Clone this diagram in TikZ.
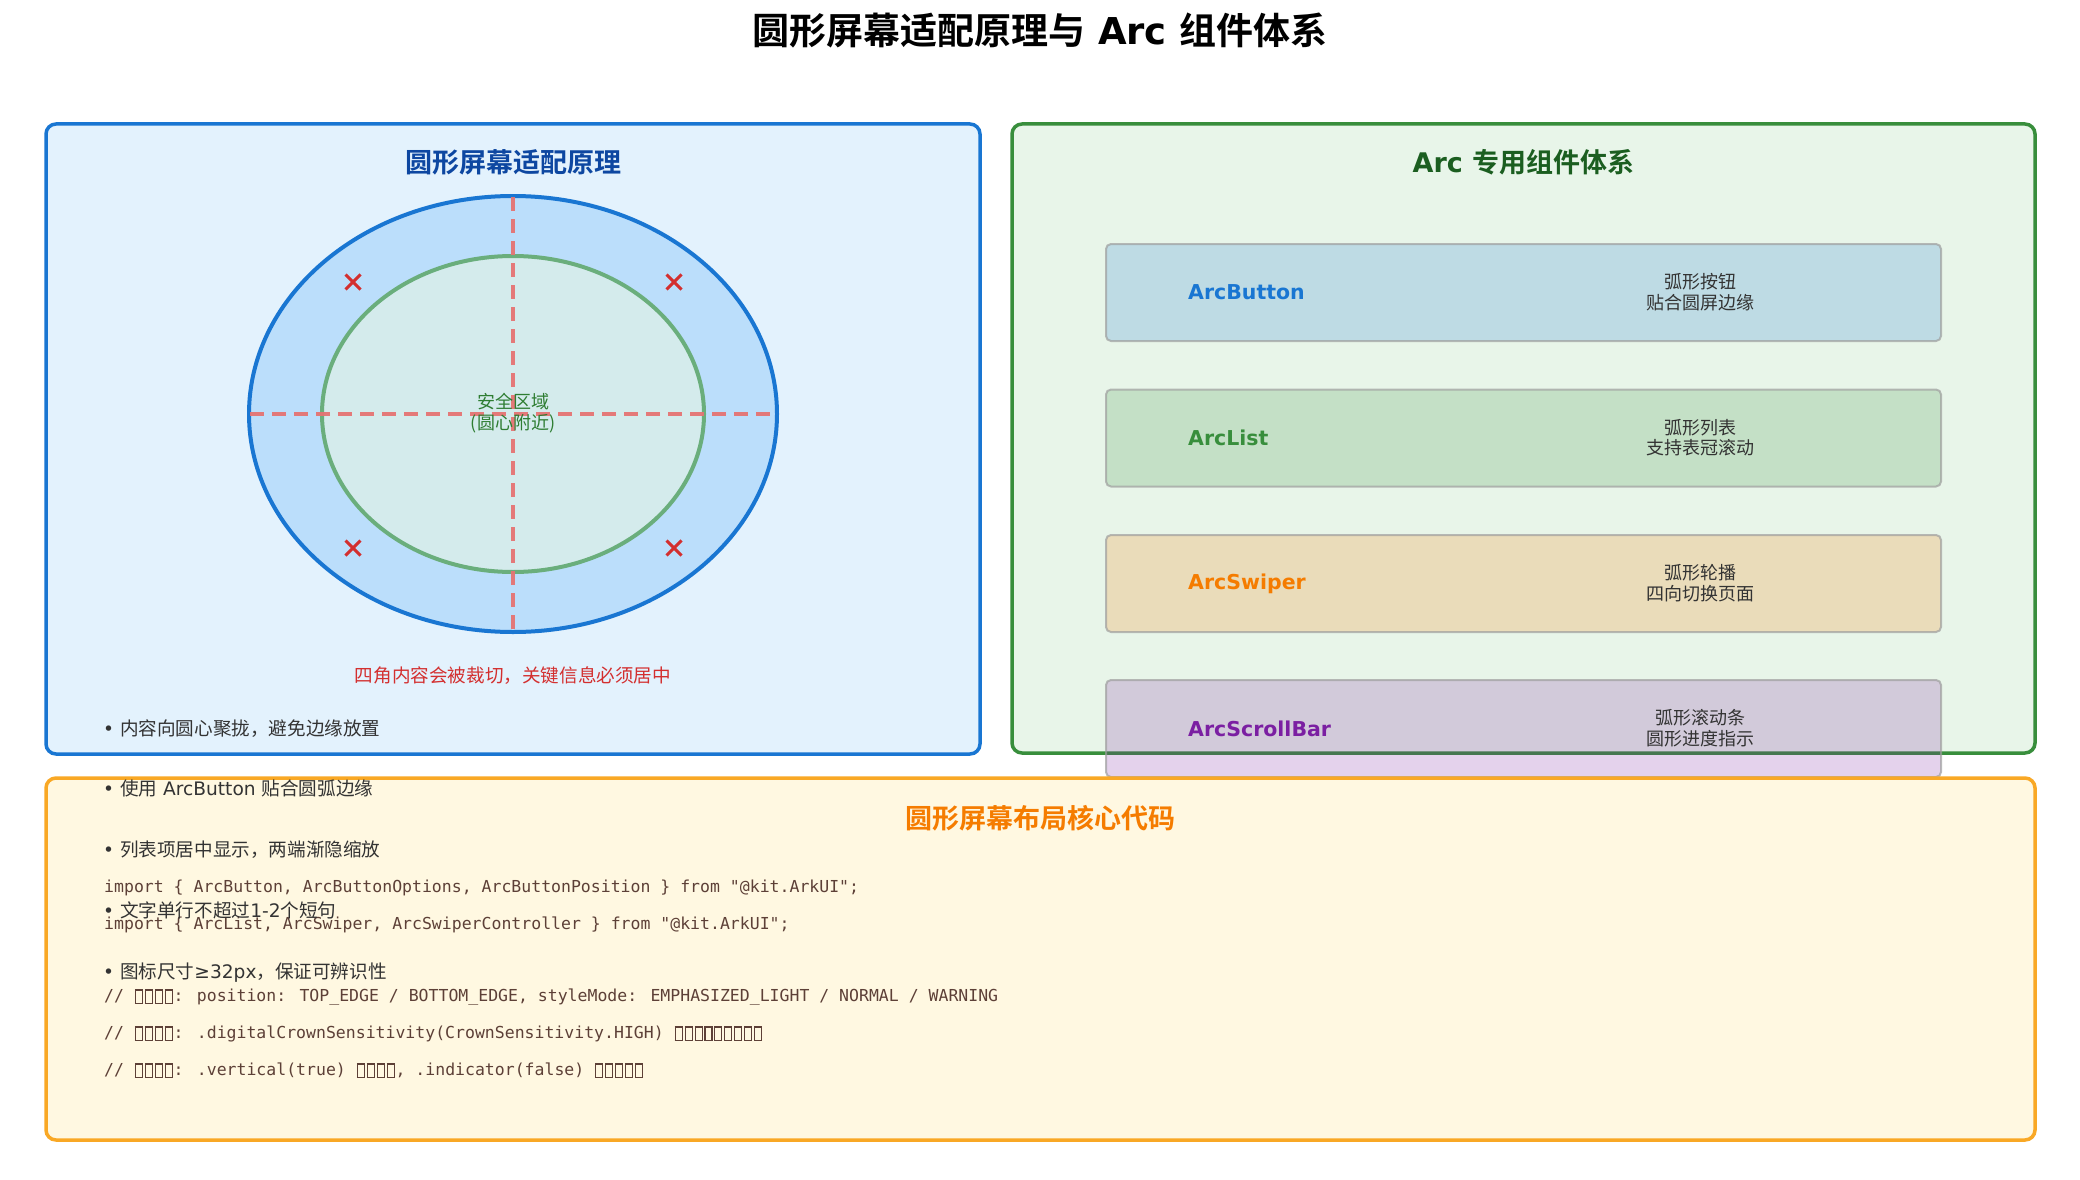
\documentclass[tikz,border=0pt]{standalone}
\usepackage{fontspec}
\setmainfont{DejaVu Sans}
\newfontfamily\cjk{Noto Sans CJK SC}[BoldFont={Noto Sans CJK SC Bold}]
\newfontfamily\codefont{DejaVu Sans Mono}
\definecolor{blueD}{HTML}{1976D2}
\definecolor{blueFill}{HTML}{E3F2FD}
\definecolor{blueRing}{HTML}{BBDEFB}
\definecolor{blueTitle}{HTML}{0D47A1}
\definecolor{greenD}{HTML}{388E3C}
\definecolor{greenFill}{HTML}{E8F5E9}
\definecolor{greenTitle}{HTML}{1B5E20}
\definecolor{safeFill}{HTML}{D4EBEC}
\definecolor{safeRing}{HTML}{6AAE7C}
\definecolor{safeText}{HTML}{2E7D32}
\definecolor{orangeB}{HTML}{F9A825}
\definecolor{orangeFill}{HTML}{FFF8E1}
\definecolor{orangeT}{HTML}{F57C00}
\definecolor{purpleT}{HTML}{7B1FA2}
\definecolor{redX}{HTML}{D32F2F}
\definecolor{dashRed}{HTML}{E57373}
\definecolor{codeC}{HTML}{5D4037}
\definecolor{txtGray}{HTML}{333333}
\definecolor{boxEdge}{HTML}{9E9E9E}
\newcommand\tofu{\makebox[0.602em]{\raisebox{-0.06em}{\fboxsep=0pt\fboxrule=0.065em\fbox{\rule{0pt}{0.74em}\rule{0.36em}{0pt}}}}}
\begin{document}
\begin{tikzpicture}[x=1pt,y=-1pt,
  panel/.style={rounded corners=10pt, line width=3.5pt},
  maintitle/.style={font=\bfseries\fontsize{37}{40}\selectfont, inner sep=0pt, text=black},
  ptitle/.style={font=\bfseries\fontsize{27}{30}\selectfont, inner sep=0pt},
  bullet/.style={font=\fontsize{18.6}{21}\selectfont, text=txtGray, anchor=west, inner sep=0pt, text height=0.8em, text depth=0.2em},
  codeline/.style={font=\codefont\fontsize{16.5}{19}\selectfont, text=codeC, anchor=west, inner sep=0pt, text height=0.75em, text depth=0.2em},
  compbox/.style={rounded corners=5pt, draw=boxEdge, draw opacity=0.7, line width=2pt, fill opacity=0.2, minimum width=835pt, minimum height=97pt, inner sep=0pt},
  complabel/.style={font=\bfseries\fontsize{20.5}{24}\selectfont, anchor=west, inner sep=0pt},
  compdesc/.style={font=\cjk\fontsize{18}{20.5}\selectfont, text=txtGray, align=center, inner sep=0pt},
  xmark/.style={draw=redX, line width=3pt},
  axisline/.style={draw=dashRed, draw opacity=0.95, line width=3.5pt, dash pattern=on 14pt off 8pt}
]
\useasboundingbox (0,0) rectangle (2080,1180);
\fill[white] (0,0) rectangle (2080,1180);

% ---- panels ----
\draw[panel, draw=blueD, fill=blueFill] (46,124) rectangle (980,754);
\draw[panel, draw=greenD, fill=greenFill] (1012,124) rectangle (2035,753);

% ---- circle diagram ----
\coordinate (ctr) at (513,414);
\draw[draw=blueD, line width=4pt, fill=blueRing] (ctr) ellipse [x radius=264pt, y radius=218pt];
\draw[draw=safeRing, line width=4pt, fill=safeFill] (ctr) ellipse [x radius=191pt, y radius=158pt];
\coordinate (vtop) at (513,197);
\coordinate (vbot) at (513,632);
\coordinate (hleft) at (250,414);
\coordinate (hright) at (776,414);
\draw[axisline] (vtop) -- (vbot);
\draw[axisline] (hleft) -- (hright);
\foreach \cx/\cy in {353/282, 674/282, 353/548, 674/548}{
  \draw[xmark] (\cx-7.5,\cy-7.5) -- (\cx+7.5,\cy+7.5);
  \draw[xmark] (\cx-7.5,\cy+7.5) -- (\cx+7.5,\cy-7.5);
}
\node[font=\cjk\fontsize{18}{20.5}\selectfont, text=safeText, align=center, inner sep=0pt] (safe) at (513,413) {安全区域\\(圆心附近)};

% ---- component boxes ----
\node[compbox, fill=blueD] (b1) at (1523.5,292.5) {};
\node[compbox, fill=greenD] (b2) at (1523.5,438) {};
\node[compbox, fill=orangeT] (b3) at (1523.5,583.5) {};
\node[compbox, fill=purpleT] (b4) at (1523.5,728.5) {};

% ---- orange panel ----
\draw[panel, draw=orangeB, fill=orangeFill] (46,778) rectangle (2035,1140);

% ---- titles ----
\node[maintitle] (title) at (1040,30) {{\cjk 圆形屏幕适配原理与} Arc {\cjk 组件体系}};
\node[ptitle, text=blueTitle] (t1) at (513,162) {\cjk 圆形屏幕适配原理};
\node[ptitle, text=greenTitle] (t2) at (1523.5,162) {Arc {\cjk 专用组件体系}};
\node[ptitle, text=orangeT] (t3) at (1040,818) {\cjk 圆形屏幕布局核心代码};

% ---- component labels ----
\node[complabel, text=blueD] (l1) at (1188,292.5) {ArcButton};
\node[complabel, text=greenD] (l2) at (1188,438) {ArcList};
\node[complabel, text=orangeT] (l3) at (1188,583.5) {ArcSwiper};
\node[complabel, text=purpleT] (l4) at (1188,728.5) {ArcScrollBar};
\node[compdesc] (d1) at (1700,292) {弧形按钮\\贴合圆屏边缘};
\node[compdesc] (d2) at (1700,437.5) {弧形列表\\支持表冠滚动};
\node[compdesc] (d3) at (1700,583) {弧形轮播\\四向切换页面};
\node[compdesc] (d4) at (1700,728) {弧形滚动条\\圆形进度指示};

% ---- note ----
\node[font=\cjk\fontsize{18.6}{21}\selectfont, text=redX, inner sep=0pt] (note) at (513,676) {四角内容会被裁切，关键信息必须居中};

% ---- code ----
\node[codeline] (c1) at (104,890) {import \{ ArcButton, ArcButtonOptions, ArcButtonPosition \} from "@kit.ArkUI";};
\node[codeline] (c2) at (104,927) {import \{ ArcList, ArcSwiper, ArcSwiperController \} from "@kit.ArkUI";};
\node[codeline] (c3) at (104,999) {// \tofu\tofu\tofu\tofu: position: TOP\_EDGE / BOTTOM\_EDGE, styleMode: EMPHASIZED\_LIGHT / NORMAL / WARNING};
\node[codeline] (c4) at (104,1036) {// \tofu\tofu\tofu\tofu: .digitalCrownSensitivity(CrownSensitivity.HIGH) \tofu\tofu\tofu\tofu\tofu\tofu\tofu\tofu\tofu};
\node[codeline] (c5) at (104,1073) {// \tofu\tofu\tofu\tofu: .vertical(true) \tofu\tofu\tofu\tofu, .indicator(false) \tofu\tofu\tofu\tofu\tofu};

% ---- bullets ----
\node[bullet] (p1) at (103,732) {• {\cjk 内容向圆心聚拢，避免边缘放置}};
\node[bullet] (p2) at (103,792) {• {\cjk 使用} ArcButton {\cjk 贴合圆弧边缘}};
\node[bullet] (p3) at (103,853) {• {\cjk 列表项居中显示，两端渐隐缩放}};
\node[bullet] (p4) at (103,914) {• {\cjk 文字单行不超过}1-2{\cjk 个短句}};
\node[bullet] (p5) at (103,975) {• {\cjk 图标尺寸}≥32px{\cjk ，保证可辨识性}};
\end{tikzpicture}
\end{document}
